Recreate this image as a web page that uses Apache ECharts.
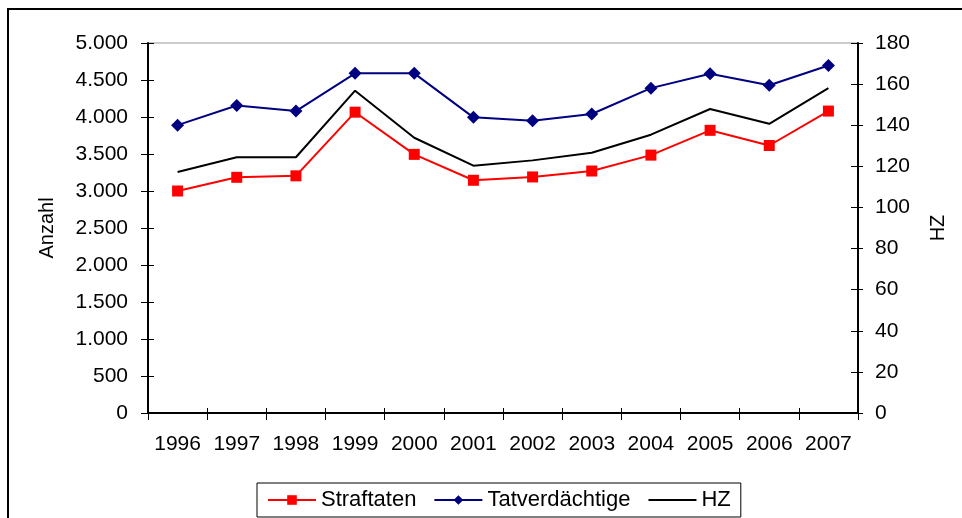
<!DOCTYPE html>
<html>
<head>
<meta charset="utf-8">
<script src="https://cdn.jsdelivr.net/npm/echarts@6/dist/echarts.min.js"></script>
<style>
  html, body { margin: 0; padding: 0; background: #fff; }
  #chart { width: 962px; height: 518px; }
</style>
</head>
<body>
<div id="chart"></div>
<script>
const years = ['1996', '1997', '1998', '1999', '2000', '2001', '2002', '2003', '2004', '2005', '2006', '2007'];
const straftaten = [3000, 3185, 3205, 4065, 3495, 3145, 3190, 3270, 3485, 3820, 3615, 4080];
const tatverdaechtige = [3890, 4155, 4080, 4590, 4590, 3995, 3950, 4040, 4390, 4585, 4430, 4695];
const hz = [117.2, 124.4, 124.4, 156.8, 133.9, 120.3, 122.9, 126.6, 135.4, 147.9, 140.7, 158];

const font = "Arial, 'Liberation Sans', sans-serif";

// 5000 -> "5.000"
function thousands(v) {
  return String(v).replace(/\B(?=(\d{3})+(?!\d))/g, '.');
}

const lineBlack = { show: true, lineStyle: { color: '#000', width: 2 } };

var option = {
  animation: false,
  grid: {
    left: 148, right: 104, top: 43, bottom: 105,
    show: true, borderColor: '#999', borderWidth: 1
  },
  graphic: [
    {
      type: 'rect',
      shape: { x: 8, y: 9, width: 1000, height: 600 },
      style: { fill: 'none', stroke: '#000', lineWidth: 2 }
    }
  ],
  legend: {
    left: 257, bottom: 1,
    padding: [6, 10, 6, 10],
    borderColor: '#000', borderWidth: 1,
    itemWidth: 48, itemHeight: 12, itemGap: 17,
    textStyle: { fontFamily: font, fontSize: 22, color: '#000' },
    data: [
      'Straftaten',
      'Tatverdächtige',
      { name: 'HZ', itemStyle: { opacity: 0 } }
    ]
  },
  xAxis: [
    {
      type: 'category',
      data: years,
      boundaryGap: true,
      axisLine: lineBlack,
      axisTick: { show: true, length: 7, lineStyle: { color: '#000' } },
      axisLabel: { interval: 0, margin: 21, fontFamily: font, fontSize: 21, color: '#000' },
      splitLine: { show: false }
    },
    {
      type: 'category',
      data: years,
      position: 'bottom',
      boundaryGap: true,
      axisLine: { show: false },
      axisTick: { show: true, inside: true, interval: 0, length: 5, lineStyle: { color: '#000' } },
      axisLabel: { show: false },
      splitLine: { show: false }
    }
  ],
  yAxis: [
    {
      type: 'value',
      min: 0, max: 5000, interval: 500,
      name: 'Anzahl',
      nameLocation: 'middle',
      nameGap: 91,
      nameRotate: 90,
      nameTextStyle: { fontFamily: font, fontSize: 20, color: '#000' },
      axisLine: lineBlack,
      axisTick: { show: true, length: 7, lineStyle: { color: '#000' } },
      axisLabel: { margin: 20, fontFamily: font, fontSize: 21, color: '#000', formatter: thousands },
      splitLine: { show: false }
    },
    {
      type: 'value',
      min: 0, max: 180, interval: 20,
      position: 'right',
      name: 'HZ',
      nameLocation: 'middle',
      nameGap: 70,
      nameRotate: 90,
      nameTextStyle: { fontFamily: font, fontSize: 20, color: '#000' },
      axisLine: lineBlack,
      axisTick: { show: true, length: 5, lineStyle: { color: '#000' } },
      axisLabel: { margin: 17, fontFamily: font, fontSize: 21, color: '#000' },
      splitLine: { show: false }
    },
    {
      type: 'value',
      min: 0, max: 5000, interval: 500,
      position: 'left',
      axisLine: { show: false },
      axisTick: { show: true, inside: true, length: 6, lineStyle: { color: '#000' } },
      axisLabel: { show: false },
      splitLine: { show: false }
    },
    {
      type: 'value',
      min: 0, max: 180, interval: 20,
      position: 'right',
      axisLine: { show: false },
      axisTick: { show: true, inside: true, length: 7, lineStyle: { color: '#000' } },
      axisLabel: { show: false },
      splitLine: { show: false }
    }
  ],
  series: [
    {
      name: 'Straftaten',
      type: 'line',
      yAxisIndex: 0,
      data: straftaten,
      symbol: 'rect',
      symbolSize: 11,
      itemStyle: { color: '#ff0000' },
      lineStyle: { color: '#ff0000', width: 2 }
    },
    {
      name: 'Tatverdächtige',
      type: 'line',
      yAxisIndex: 0,
      data: tatverdaechtige,
      symbol: 'diamond',
      symbolSize: 13,
      itemStyle: { color: '#000080' },
      lineStyle: { color: '#000080', width: 2 }
    },
    {
      name: 'HZ',
      type: 'line',
      yAxisIndex: 1,
      data: hz,
      symbol: 'none',
      itemStyle: { color: '#000' },
      lineStyle: { color: '#000', width: 2 }
    }
  ]
};

var chart = echarts.init(document.getElementById('chart'), null, { renderer: 'canvas' });
chart.setOption(option);
</script>
</body>
</html>
